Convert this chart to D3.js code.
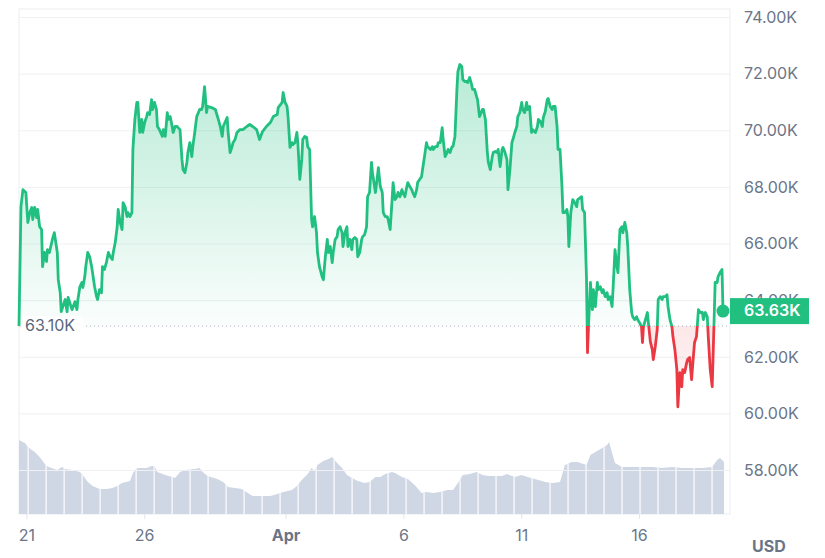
<!DOCTYPE html>
<html>
<head>
<meta charset="utf-8">
<script src="https://cdn.jsdelivr.net/npm/d3@7/dist/d3.min.js"></script>
<style>
  html, body { margin: 0; padding: 0; background: #ffffff; }
  svg { display: block; font-family: Inter, "Noto Sans", sans-serif; }
</style>
</head>
<body>
<svg id="chart" width="825" height="558"></svg>
<script>
// ---- DATA (BTC / USD, 20 Mar – 19 Apr 2024) ----
const startDate = "2024-03-21T00:00:00Z";   // hour offsets are counted from here
const basePrice = 63.10;                    // reference (opening) price, K USD
const lastPrice = 63.63;                    // current price, K USD

const priceHours = [-8,-6,-4,-1,1,3,5,6,8,10,11,13,15,16,18,20,21,23,26,28,31,32,34,35,39,41,42,46,49,51,52,54,56,57,59,60,62,64,66,69,71,72,74,76,77,79,81,83,85,87,88,90,92,93,95,97,98,100,102,103,105,107,108,110,112,113,115,117,118,120,122,123,125,127,128,130,132,133,135,138,139,141,143,144,146,148,149,151,153,154,156,158,159,161,163,164,166,168,169,171,173,176,178,179,181,183,184,188,192,195,197,199,200,204,205,207,209,210,212,214,217,220,224,227,230,234,237,240,244,248,251,255,256,260,261,263,265,266,268,270,271,273,275,276,278,280,281,283,285,286,288,290,291,293,295,296,298,301,302,304,306,307,309,311,312,314,316,317,319,321,322,324,326,327,329,331,332,334,336,337,339,341,342,344,346,347,349,351,352,355,357,358,360,362,363,365,367,368,370,372,373,375,377,378,380,382,383,385,387,388,390,392,393,395,397,398,400,402,403,405,407,408,411,413,414,416,418,419,421,423,424,426,428,429,431,433,434,436,438,439,441,443,444,446,448,449,451,453,454,456,458,459,461,464,465,467,469,470,472,474,475,477,479,480,482,484,485,487,489,490,492,494,495,497,499,500,502,504,505,507,509,510,512,514,515,518,520,521,523,525,526,528,530,531,533,535,536,538,540,541,543,545,546,548,550,551,552,554,556,558,560,561,565,566,568,570,571,572,574,576,577,579,581,582,584,586,587,589,591,592,594,596,597,599,601,602,604,606,607,609,611,612,614,616,617,619,621,622,624,626,627,628,630,632,633,635,637,638,640,642,643,645,647,648,650,652,653,655,657,658,660,662,663,665,667,668,670,672,673,675,677,678,680,682,684,686,688,689,691,693,694,696,698,699,701,703,704,706,708,709];

const priceValues = [63.10,67.32,67.92,67.82,66.76,67.11,67.29,66.86,67.29,66.93,67.22,66.61,66.51,65.20,65.70,65.38,65.80,65.70,66.16,66.40,65.70,64.74,64.28,63.61,64.04,63.61,64.11,63.68,63.96,63.68,64.04,64.49,64.64,64.46,64.85,65.20,65.70,65.55,65.20,64.49,64.14,64.04,64.39,64.28,65.20,65.10,65.34,65.70,65.55,65.45,65.70,66.05,66.61,67.22,66.76,66.51,67.46,67.32,66.97,67.11,66.97,67.11,69.34,70.40,71.00,71.00,69.94,70.40,69.94,70.29,70.50,70.64,70.57,71.10,70.75,71.00,70.75,70.15,70.04,69.80,70.04,69.80,70.64,70.40,70.50,70.15,69.94,70.15,70.15,70.11,70.04,68.98,68.63,68.52,68.88,69.23,69.58,69.09,69.44,69.94,70.50,70.75,70.75,70.86,71.56,70.64,70.86,70.82,70.75,70.40,70.15,69.80,70.15,70.47,69.94,69.23,69.44,69.58,69.69,69.94,70.04,70.04,70.15,70.22,70.15,70.04,69.69,69.97,70.15,70.29,70.50,70.57,70.82,71.00,71.35,71.00,70.86,70.50,69.41,69.58,69.51,69.58,69.94,69.58,68.28,68.98,69.69,69.80,69.76,69.44,69.34,66.86,66.61,66.97,66.40,65.70,65.20,64.81,64.74,65.55,66.16,65.70,65.91,65.34,65.70,66.16,66.26,66.51,66.61,66.40,65.91,66.40,66.61,65.91,66.16,65.80,66.16,66.23,66.16,65.55,65.70,66.16,66.26,66.33,66.61,67.67,67.82,68.88,68.52,67.82,68.38,68.70,68.03,67.82,67.11,66.97,66.97,66.86,66.51,67.57,68.17,67.57,67.67,67.82,67.67,67.92,67.82,67.67,68.03,68.17,68.03,67.92,67.82,67.67,67.92,68.17,68.28,68.38,68.63,69.09,69.58,69.44,69.34,69.44,69.34,69.44,69.44,69.58,69.58,70.11,69.69,69.09,69.23,69.34,69.23,69.44,69.44,69.80,71.46,72.09,72.34,72.27,71.81,71.74,71.74,71.70,71.88,71.63,71.46,71.46,71.21,71.10,70.50,70.75,70.75,70.40,69.23,68.88,68.63,69.09,69.23,69.27,69.23,69.34,68.73,69.34,69.41,69.23,68.98,67.92,68.63,69.58,69.69,69.94,70.15,70.50,70.64,71.00,70.75,70.64,71.00,70.75,70.86,69.94,70.04,69.94,70.15,70.40,70.33,70.15,70.47,70.68,71.10,71.14,70.86,70.75,70.86,70.86,70.15,69.34,69.34,68.03,67.11,67.11,67.22,66.97,65.91,67.11,67.57,67.46,67.32,67.57,67.67,67.22,67.11,64.74,62.16,63.08,64.64,63.68,64.39,63.79,64.64,64.39,64.49,64.28,64.39,64.14,64.28,64.04,64.14,63.79,64.39,65.80,65.20,64.99,66.51,66.61,66.40,66.76,66.40,65.91,64.39,63.58,63.43,63.33,63.43,63.33,63.22,63.08,62.52,63.08,63.33,63.58,63.22,62.55,62.27,61.92,62.37,62.98,64.04,64.14,64.04,64.14,64.14,64.21,63.79,63.33,63.08,62.73,62.27,61.56,60.25,61.46,60.96,61.56,61.46,61.81,61.92,61.99,61.21,61.67,62.52,62.73,63.68,63.58,63.58,63.33,63.58,63.43,62.73,61.56,60.96,62.16,64.64,64.64,64.85,64.99,65.10,63.63];

// 24h trading volume, billions USD
const volumeHours = [-8,-2,1,8,13,20,25,31,36,39,46,54,57,62,67,74,81,87,92,97,105,108,112,117,122,127,130,133,141,148,151,156,161,171,176,179,184,194,200,205,212,219,225,230,239,248,255,261,270,275,280,286,290,293,296,302,307,311,316,321,326,331,337,344,349,355,360,365,372,375,382,388,395,402,407,414,421,428,434,439,444,451,458,464,470,477,484,489,497,504,510,521,528,535,543,548,555,561,570,574,579,586,591,593,596,599,606,616,626,637,647,657,667,677,688,698,703,706,710];
const volumeValues = [44.4,42.6,40.2,37.2,34.2,28.8,27.6,26.4,28.2,27.0,26.4,25.2,23.4,19.2,16.8,15.0,15.0,15.6,16.8,18.6,19.8,24.6,27.6,27.6,27.6,28.8,28.8,25.2,23.4,22.2,21.6,25.2,26.4,27.0,27.6,25.2,22.8,21.0,19.2,16.2,15.6,15.0,12.6,10.8,10.8,10.8,12.0,13.2,14.4,16.8,20.4,24.0,27.6,25.8,29.4,31.8,33.0,34.2,30.6,27.6,23.4,21.6,19.8,18.6,19.2,22.2,22.2,24.0,25.2,24.6,22.2,21.0,17.4,12.6,13.2,12.6,13.2,14.4,14.4,18.6,23.4,24.0,25.2,23.4,22.8,22.8,22.8,24.0,22.2,23.4,22.2,20.4,19.2,18.6,19.2,29.4,31.2,31.2,29.4,35.4,37.2,39.6,41.4,43.2,36.6,30.6,28.2,28.2,28.2,28.2,27.6,28.2,27.6,27.6,27.6,28.2,32.4,33.6,31.2];

const yTicks = [58, 60, 62, 64, 66, 68, 70, 72, 74];
const xTickDates = ["2024-03-21", "2024-03-26", "2024-04-01", "2024-04-06", "2024-04-11", "2024-04-16"];
const xTickLabels = ["21", "26", "Apr", "6", "11", "16"];
const currencyLabel = "USD";

// ---- BUILD ----
const H = 3600 * 1000;
const t0 = new Date(startDate).getTime();
const toDate = h => new Date(t0 + h * H);
const prices = priceHours.map((h, i) => ({ t: toDate(h), v: priceValues[i] }));
const volumes = volumeHours.map((h, i) => ({ t: toDate(h), v: volumeValues[i] }));

const GREEN = "#21c080", RED = "#ea3943", AXIS_TXT = "#6b7588";
const FS = 16;
const plot = { left: 19, right: 730, top: 9, bottom: 514 };

const svg = d3.select("#chart");
const defs = svg.append("defs");

const x = d3.scaleUtc()
  .domain([prices[0].t, prices[prices.length - 1].t])
  .range([19, 723]);
const y = d3.scaleLinear().domain([58, 74]).range([470.5, 17.5]);
const yv = d3.scaleLinear().domain([0, 48]).range([plot.bottom, plot.bottom - 80]);

const yBase = y(basePrice);

// frame
svg.append("rect")
  .attr("x", plot.left).attr("y", plot.top)
  .attr("width", plot.right - plot.left).attr("height", plot.bottom - plot.top)
  .attr("fill", "none").attr("stroke", "#eceef2").attr("stroke-width", 1);

// volume area
const volArea = d3.area().x(d => x(d.t)).y0(plot.bottom).y1(d => yv(d.v)).curve(d3.curveLinear);
svg.append("path").datum(volumes).attr("d", volArea).attr("fill", "#d0d7e4");

// separators inside the volume area
defs.append("clipPath").attr("id", "volClip").append("path").datum(volumes).attr("d", volArea);
const sepStartHour = 1.3, sepStepHours = 18.33;
const sepHours = d3.range(sepStartHour, volumeHours[volumeHours.length - 1], sepStepHours);
svg.append("g").attr("clip-path", "url(#volClip)")
  .selectAll("line").data(sepHours).join("line")
  .attr("x1", h => x(toDate(h))).attr("x2", h => x(toDate(h)))
  .attr("y1", plot.bottom - 100).attr("y2", plot.bottom)
  .attr("stroke", "#ffffff").attr("stroke-width", 1.3).attr("opacity", 0.9);

// grid
svg.append("g").selectAll("line").data(yTicks).join("line")
  .attr("x1", plot.left).attr("x2", plot.right)
  .attr("y1", d => y(d)).attr("y2", d => y(d))
  .attr("stroke", "#eef0f3").attr("stroke-width", 1);

// gradients
const gG = defs.append("linearGradient").attr("id", "gGreen")
  .attr("gradientUnits", "userSpaceOnUse").attr("x1", 0).attr("x2", 0)
  .attr("y1", y(d3.max(priceValues))).attr("y2", yBase);
gG.append("stop").attr("offset", 0).attr("stop-color", GREEN).attr("stop-opacity", 0.32);
gG.append("stop").attr("offset", 1).attr("stop-color", GREEN).attr("stop-opacity", 0.02);
const gR = defs.append("linearGradient").attr("id", "gRed")
  .attr("gradientUnits", "userSpaceOnUse").attr("x1", 0).attr("x2", 0)
  .attr("y1", yBase).attr("y2", y(d3.min(priceValues)));
gR.append("stop").attr("offset", 0).attr("stop-color", RED).attr("stop-opacity", 0.12);
gR.append("stop").attr("offset", 1).attr("stop-color", RED).attr("stop-opacity", 0.04);

defs.append("clipPath").attr("id", "clipAbove").append("rect")
  .attr("x", 0).attr("y", 0).attr("width", 825).attr("height", yBase);
defs.append("clipPath").attr("id", "clipBelow").append("rect")
  .attr("x", 0).attr("y", yBase).attr("width", 825).attr("height", 558 - yBase);

const area = d3.area().x(d => x(d.t)).y0(yBase).y1(d => y(d.v));
const line = d3.line().x(d => x(d.t)).y(d => y(d.v));

svg.append("path").datum(prices).attr("d", area).attr("fill", "url(#gGreen)").attr("clip-path", "url(#clipAbove)");
svg.append("path").datum(prices).attr("d", area).attr("fill", "url(#gRed)").attr("clip-path", "url(#clipBelow)");

// baseline (dotted)
svg.append("line")
  .attr("x1", 86).attr("x2", plot.right)
  .attr("y1", yBase).attr("y2", yBase)
  .attr("stroke", "#a9b0bd").attr("stroke-width", 1).attr("stroke-dasharray", "1,3");

// price line
svg.append("path").datum(prices).attr("d", line).attr("fill", "none")
  .attr("stroke", GREEN).attr("stroke-width", 2.8).attr("stroke-linejoin", "round")
  .attr("clip-path", "url(#clipAbove)");
svg.append("path").datum(prices).attr("d", line).attr("fill", "none")
  .attr("stroke", RED).attr("stroke-width", 2.8).attr("stroke-linejoin", "round")
  .attr("clip-path", "url(#clipBelow)");

// base label
const fmtK = v => d3.format(".2f")(v) + "K";
svg.append("rect").attr("x", 23).attr("y", yBase - 10).attr("width", 60).attr("height", 20)
  .attr("fill", "#ffffff").attr("opacity", 0.9);
svg.append("text").attr("x", 25).attr("y", yBase + 1)
  .attr("dominant-baseline", "middle").attr("font-size", FS).attr("fill", "#58667e")
  .text(fmtK(basePrice));

// y axis labels
svg.append("g").selectAll("text").data(yTicks).join("text")
  .attr("x", 744).attr("y", d => y(d) + 1)
  .attr("dominant-baseline", "middle").attr("font-size", FS).attr("fill", AXIS_TXT)
  .text(d => fmtK(d));

// x axis ticks + labels
const xTicks = xTickDates.map(s => new Date(s + "T00:00:00Z"));
svg.append("g").selectAll("line").data(xTicks).join("line")
  .attr("x1", d => x(d)).attr("x2", d => x(d))
  .attr("y1", plot.bottom).attr("y2", plot.bottom + 5)
  .attr("stroke", "#e3e6eb");
svg.append("g").selectAll("text").data(xTicks).join("text")
  .attr("x", d => x(d)).attr("y", 537)
  .attr("text-anchor", "middle").attr("dominant-baseline", "middle")
  .attr("font-size", FS).attr("fill", AXIS_TXT)
  .attr("font-weight", (d, i) => xTickLabels[i] === "Apr" ? 700 : 400)
  .text((d, i) => xTickLabels[i]);

svg.append("text").attr("x", 752).attr("y", 548)
  .attr("dominant-baseline", "middle").attr("font-size", FS).attr("font-weight", 700)
  .attr("fill", AXIS_TXT).text(currencyLabel);

// current price marker
const last = prices[prices.length - 1];
svg.append("circle").attr("cx", x(last.t)).attr("cy", y(lastPrice)).attr("r", 6.5).attr("fill", GREEN);
svg.append("rect").attr("x", plot.right).attr("y", y(lastPrice) - 13)
  .attr("width", 79).attr("height", 26).attr("fill", GREEN);
svg.append("text").attr("x", 744).attr("y", y(lastPrice) + 1)
  .attr("dominant-baseline", "middle").attr("font-size", FS).attr("font-weight", 600)
  .attr("fill", "#ffffff").text(fmtK(lastPrice));
</script>
</body>
</html>
